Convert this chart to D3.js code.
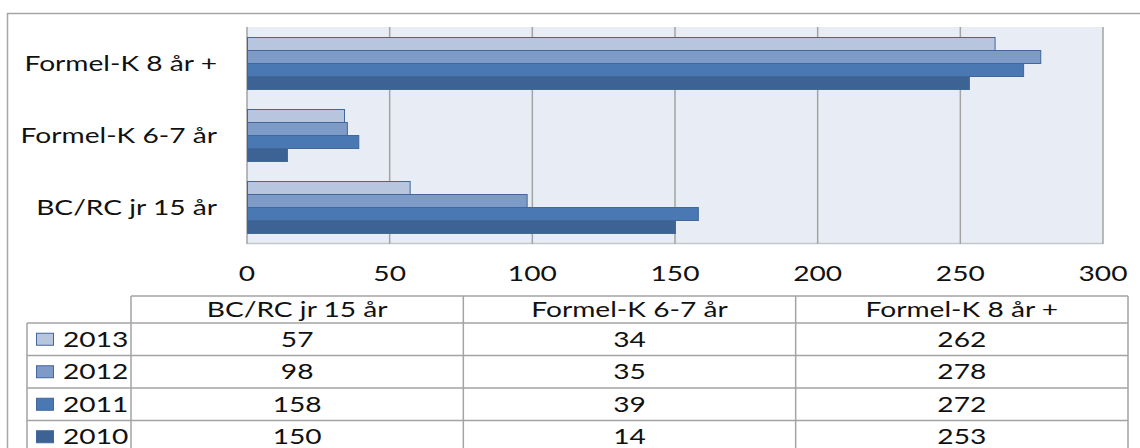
<!DOCTYPE html>
<html>
<head>
<meta charset="utf-8">
<script src="https://cdn.jsdelivr.net/npm/d3@7"></script>
<style>
  body { margin: 0; background: #fff; }
  svg text { font-family: Lato, "Open Sans", sans-serif; fill: #111; }
</style>
</head>
<body>
<svg id="chart" width="1140" height="448"></svg>
<script>
// chart data
const categories = ["Formel-K 8 år +", "Formel-K 6-7 år", "BC/RC jr 15 år"];
const tableCols  = ["BC/RC jr 15 år", "Formel-K 6-7 år", "Formel-K 8 år +"];
const years      = ["2013", "2012", "2011", "2010"];
const values2013 = [57, 34, 262];
const values2012 = [98, 35, 278];
const values2011 = [158, 39, 272];
const values2010 = [150, 14, 253];
const xTicks     = [0, 50, 100, 150, 200, 250, 300];

const seriesValues = { "2013": values2013, "2012": values2012, "2011": values2011, "2010": values2010 };
const colors = { "2013": "#b8c5de", "2012": "#7e9bc8", "2011": "#4a78b3", "2010": "#3d6395" };

const FONT = 21, STRETCH = 1.34;
const grid = "#a3a3a3";

const svg = d3.select("#chart");

// stretch text horizontally, the source was rendered wide
function stretch(sel) {
  sel.each(function() {
    const w = this.getComputedTextLength();
    d3.select(this).attr("textLength", w * STRETCH).attr("lengthAdjust", "spacingAndGlyphs");
  });
}

// outer frame
svg.append("rect")
  .attr("x", 7.5).attr("y", 13.5).attr("width", 1200).attr("height", 500)
  .attr("fill", "none").attr("stroke", "#a6a6a6").attr("stroke-width", 1.5);

// scales
const x = d3.scaleLinear().domain([0, 300]).range([247, 1103]);
const y = d3.scaleBand().domain(categories).range([27, 243]);
const yInner = d3.scaleBand().domain(years).range([10, y.bandwidth() - 10]);

// plot area
svg.append("rect")
  .attr("x", x(0)).attr("y", 27).attr("width", x(300) - x(0)).attr("height", 243 - 27)
  .attr("fill", "#e8ecf4");

svg.append("line")
  .attr("x1", x(0)).attr("x2", x(300)).attr("y1", 243.5).attr("y2", 243.5)
  .attr("stroke", "#c4c7cc").attr("stroke-width", 1.5);

// gridlines
svg.append("g").selectAll("line")
  .data(xTicks)
  .join("line")
  .attr("x1", d => x(d)).attr("x2", d => x(d))
  .attr("y1", 27).attr("y2", 244)
  .attr("stroke", grid).attr("stroke-width", 1.5);

// bars
const groups = svg.append("g").selectAll("g")
  .data(categories)
  .join("g")
  .attr("transform", d => `translate(0,${y(d)})`);

groups.selectAll("rect")
  .data(c => {
    const col = tableCols.indexOf(c);
    return years.map(yr => ({ year: yr, value: seriesValues[yr][col] }));
  })
  .join("rect")
  .attr("x", x(0) + 0.5)
  .attr("y", d => yInner(d.year) + 0.5)
  .attr("width", d => x(d.value) - x(0))
  .attr("height", yInner.bandwidth())
  .attr("fill", d => colors[d.year])
  .attr("stroke", "#41679c")
  .attr("stroke-width", 1);

// category labels
svg.append("g").selectAll("text")
  .data(categories)
  .join("text")
  .attr("x", 217)
  .attr("y", d => y(d) + y.bandwidth() / 2)
  .attr("dy", "0.36em")
  .attr("text-anchor", "end")
  .attr("font-size", FONT)
  .text(d => d)
  .call(stretch);

// x tick labels
svg.append("g").selectAll("text")
  .data(xTicks)
  .join("text")
  .attr("x", d => x(d))
  .attr("y", 273)
  .attr("dy", "0.36em")
  .attr("text-anchor", "middle")
  .attr("font-size", FONT)
  .text(d => d)
  .call(stretch);

// data table
const tx = d3.scaleBand().domain(tableCols).range([131, 1128]);
const rowTop = 323, rowH = 32.5, headTop = 296;
const ty = d3.scaleBand().domain(years).range([rowTop, rowTop + rowH * years.length]);
const tbl = svg.append("g").attr("stroke", grid).attr("stroke-width", 1.5);

// horizontal rules
tbl.append("line").attr("x1", 131).attr("x2", 1128).attr("y1", headTop).attr("y2", headTop);
tbl.selectAll("line.h")
  .data(years)
  .join("line")
  .attr("class", "h")
  .attr("x1", 27).attr("x2", 1128)
  .attr("y1", d => ty(d)).attr("y2", d => ty(d));

// vertical rules
tbl.append("line").attr("x1", 27).attr("x2", 27).attr("y1", rowTop).attr("y2", 460);
tbl.selectAll("line.v")
  .data(tableCols)
  .join("line")
  .attr("class", "v")
  .attr("x1", d => tx(d)).attr("x2", d => tx(d))
  .attr("y1", headTop).attr("y2", 460);
tbl.append("line").attr("x1", 1128).attr("x2", 1128).attr("y1", headTop).attr("y2", 460);

// header text
svg.append("g").selectAll("text")
  .data(tableCols)
  .join("text")
  .attr("x", d => tx(d) + tx.bandwidth() / 2)
  .attr("y", headTop + (rowTop - headTop) / 2)
  .attr("dy", "0.36em")
  .attr("text-anchor", "middle")
  .attr("font-size", FONT)
  .text(d => d)
  .call(stretch);

// rows: legend key, year, values
const rows = svg.append("g").selectAll("g")
  .data(years)
  .join("g")
  .attr("transform", d => `translate(0,${ty(d) + ty.bandwidth() / 2})`);

rows.append("rect")
  .attr("x", 36.5).attr("y", -6).attr("width", 17).attr("height", 12)
  .attr("fill", d => colors[d])
  .attr("stroke", "#41679c").attr("stroke-width", 1);

rows.append("text")
  .attr("x", 63).attr("dy", "0.36em")
  .attr("font-size", FONT)
  .text(d => d)
  .call(stretch);

rows.selectAll("text.val")
  .data(yr => seriesValues[yr].map((v, i) => ({ col: tableCols[i], v })))
  .join("text")
  .attr("class", "val")
  .attr("x", d => tx(d.col) + tx.bandwidth() / 2)
  .attr("dy", "0.36em")
  .attr("text-anchor", "middle")
  .attr("font-size", FONT)
  .text(d => d.v)
  .call(stretch);
</script>
</body>
</html>
